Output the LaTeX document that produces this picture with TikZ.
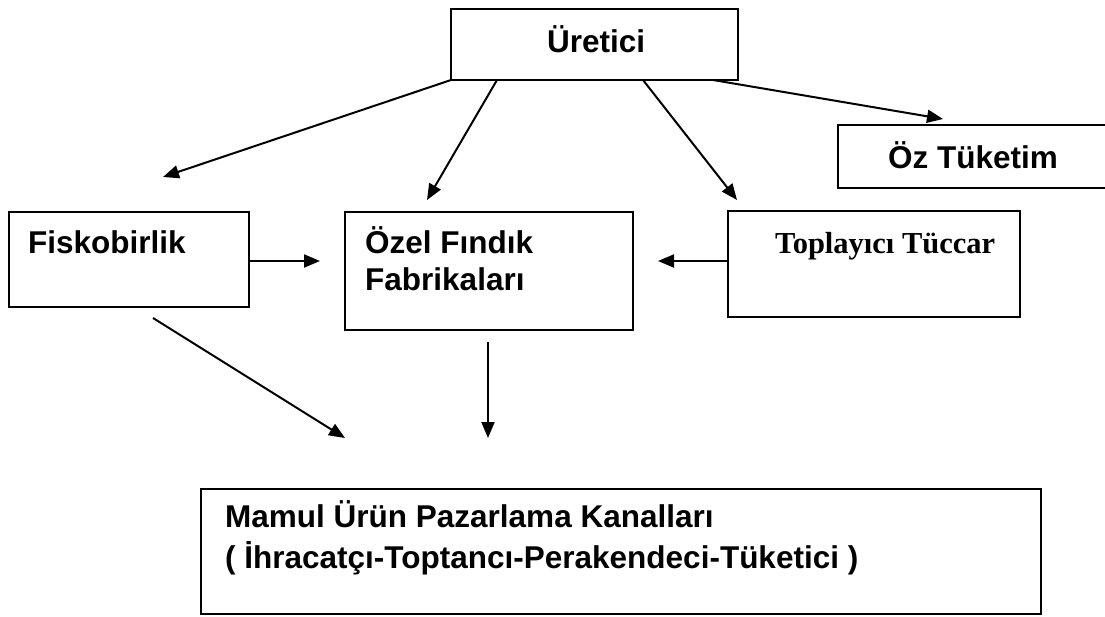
\documentclass[tikz,border=0pt]{standalone}
\usepackage{fontspec}
\setmainfont{Liberation Sans}
\newfontfamily\tnr{Liberation Serif}
\usetikzlibrary{arrows.meta}
\begin{document}
\begin{tikzpicture}[x=1pt,y=-1pt,
  box/.style={draw, line width=2pt, inner sep=0pt, outer sep=0pt, anchor=north west},
  lbl/.style={anchor=base west, inner sep=0pt, font=\fontsize{31.5}{37}\selectfont\bfseries},
  arr/.style={line width=2pt, -{Triangle[length=16pt,width=13pt]}}]
\useasboundingbox (0,0) rectangle (1105,616);
% boxes
\node[box, minimum width=287pt, minimum height=71pt] (ure) at (451,9) {};
\node[box, minimum width=270pt, minimum height=63pt] (oz) at (838,125) {};
\node[box, minimum width=240pt, minimum height=95pt] (fisko) at (9,212) {};
\node[box, minimum width=288pt, minimum height=118pt] (ozel) at (345,212) {};
\node[box, minimum width=292pt, minimum height=106pt] (top) at (728,211) {};
\node[box, minimum width=840pt, minimum height=125pt] (mamul) at (201,489) {};
% texts
\node[lbl] (ureT) at (547,52) {Üretici};
\node[lbl] (ozT) at (888,168) {Öz Tüketim};
\node[lbl] (fiskoT) at (28,253) {Fiskobirlik};
\node[lbl, align=left] (ozelT) at (365,290) {Özel Fındık\\Fabrikaları};
\node[lbl, font=\fontsize{30.5}{37}\selectfont\tnr\bfseries] (topT) at (775,253) {Toplayıcı Tüccar};
\node[lbl, align=left, font=\fontsize{31.5}{41}\selectfont\bfseries] (mamulT) at (225,568) {Mamul Ürün Pazarlama Kanalları\\( İhracatçı-Toptancı-Perakendeci-Tüketici )};
% free arrow ends
\coordinate (t1) at (163,177);
\coordinate (t2) at (427,200);
\coordinate (t3) at (737,200);
\coordinate (t4) at (943,119);
\coordinate (t5) at (320,261);
\coordinate (t6) at (658,261);
\coordinate (s7) at (153,318);
\coordinate (t7) at (345,438);
\coordinate (s8) at (488,342);
\coordinate (t8) at (488,438);
% connectors
\draw[arr] (ure.south west) -- (t1);
\draw[arr] ([xshift=46pt]ure.south west) -- (t2);
\draw[arr] ([xshift=192pt]ure.south west) -- (t3);
\draw[arr] ([xshift=262pt]ure.south west) -- (t4);
\draw[arr] ([yshift=-1.5pt]fisko.east) -- (t5);
\draw[arr] ([yshift=3pt]top.west) -- (t6);
\draw[arr] (s7) -- (t7);
\draw[arr] (s8) -- (t8);
\end{tikzpicture}
\end{document}
